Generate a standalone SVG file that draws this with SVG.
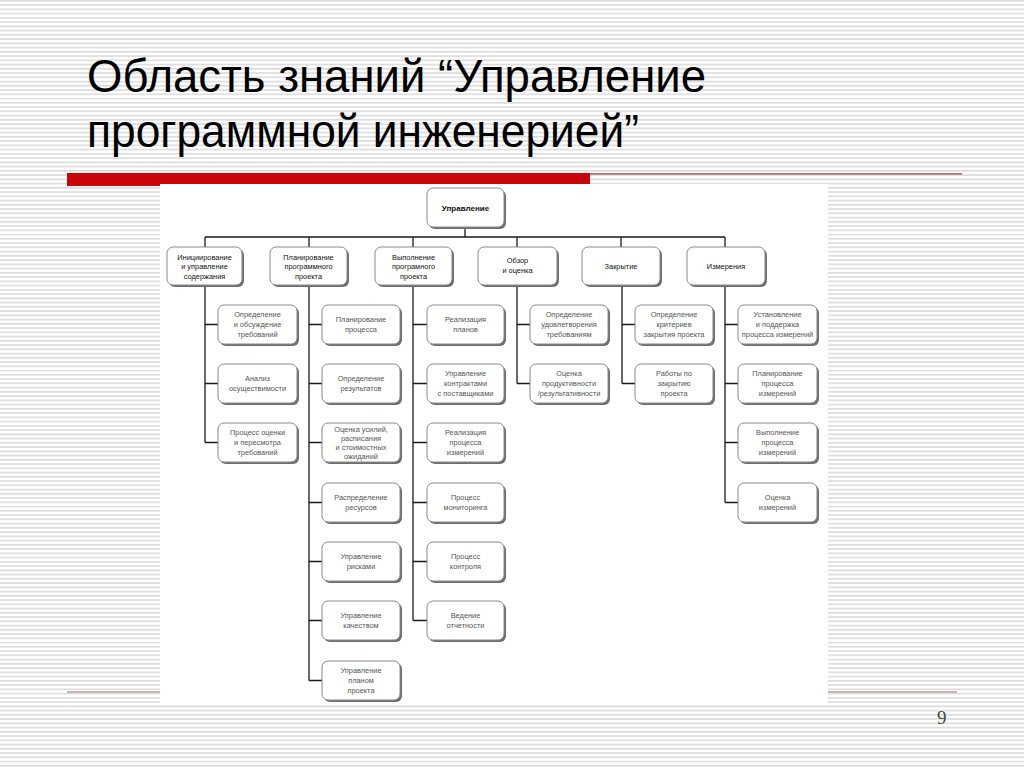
<svg xmlns="http://www.w3.org/2000/svg" width="1024" height="767" viewBox="0 0 1024 767">
<defs>
<pattern id="stripes" x="0" y="0" width="8" height="4.25" patternUnits="userSpaceOnUse">
<rect x="0" y="0" width="8" height="1.6" fill="#dcdcdc"/>
</pattern>
<style>
.title{font-family:"Liberation Sans",Arial,sans-serif;font-size:46px;fill:#000}
.pg{font-family:"Liberation Serif","Times New Roman",serif;font-size:19px;fill:#444}
.sh{fill:#6e6e6e}
.bx{fill:#fff;stroke:#8a8a8a;stroke-width:1}
.t1{font-family:"Liberation Sans",Arial,sans-serif;font-size:7.4px;fill:#111;text-anchor:middle}
.t0{font-family:"Liberation Sans",Arial,sans-serif;font-size:8px;font-weight:bold;fill:#111;text-anchor:middle}
.t2{font-family:"Liberation Sans",Arial,sans-serif;font-size:7.4px;fill:#555;text-anchor:middle}
.ln{stroke:#1a1a1a;stroke-width:1.3;fill:none}
</style>
</defs>
<rect width="1024" height="767" fill="#fff"/>
<rect width="1024" height="767" fill="url(#stripes)"/>
<text class="title" x="87" y="92" textLength="619" lengthAdjust="spacingAndGlyphs">Область знаний “Управление</text>
<text class="title" x="87" y="147" textLength="552" lengthAdjust="spacingAndGlyphs">программной инженерией”</text>
<rect x="67" y="173" width="523" height="13" fill="#c8050a"/>
<line x1="590" y1="173.8" x2="962" y2="173.8" stroke="#9b3d3d" stroke-width="1.3"/>
<line x1="67" y1="692" x2="160" y2="692" stroke="#cdb3b3" stroke-width="2"/>
<line x1="828" y1="692" x2="957" y2="692" stroke="#cdb3b3" stroke-width="2"/>
<rect x="160" y="184" width="668" height="519" fill="#fff"/>
<text class="pg" x="937" y="724">9</text>

<g id="connectors">
<path class="ln" d="M465 227V237M205 237H725M205 237V247M309 237V247M413 237V247M517 237V247M621 237V247M725 237V247"/>
<path class="ln" d="M205 285V442.5M205 324.5H218M205 383.5H218M205 442.5H218"/>
<path class="ln" d="M309 285V680.5M309 324.5H322M309 383.5H322M309 442.5H322M309 502.5H322M309 561.5H322M309 620.5H322M309 680.5H322"/>
<path class="ln" d="M413 285V620.5M413 324.5H427M413 383.5H427M413 442.5H427M413 502.5H427M413 561.5H427M413 620.5H427"/>
<path class="ln" d="M517 285V383.5M517 324.5H530M517 383.5H530"/>
<path class="ln" d="M622 285V383.5M622 324.5H635M622 383.5H635"/>
<path class="ln" d="M725 285V502.5M725 324.5H738M725 383.5H738M725 442.5H738M725 502.5H738"/>
</g>

<g id="root">
<rect class="sh" x="429" y="190" width="77" height="39" rx="6"/>
<rect class="bx" x="427" y="188" width="77" height="39" rx="6"/>
<text class="t0" x="465.5" y="210.5">Управление</text>
</g>

<g id="l1-init">
<rect class="sh" x="169" y="249" width="75" height="38" rx="6"/>
<rect class="bx" x="167" y="247" width="75" height="38" rx="6"/>
<text class="t1" x="204.5" y="259.5">Инициирование</text>
<text class="t1" x="204.5" y="269">и управление</text>
<text class="t1" x="204.5" y="278.5">содержания</text>
</g>
<g id="l1-plan">
<rect class="sh" x="272" y="249" width="77" height="38" rx="6"/>
<rect class="bx" x="270" y="247" width="77" height="38" rx="6"/>
<text class="t1" x="308.5" y="259.5">Планирование</text>
<text class="t1" x="308.5" y="269">программного</text>
<text class="t1" x="308.5" y="278.5">проекта</text>
</g>
<g id="l1-exec">
<rect class="sh" x="377" y="249" width="77" height="38" rx="6"/>
<rect class="bx" x="375" y="247" width="77" height="38" rx="6"/>
<text class="t1" x="413.5" y="259.5">Выполнение</text>
<text class="t1" x="413.5" y="269">програмного</text>
<text class="t1" x="413.5" y="278.5">проекта</text>
</g>
<g id="l1-review">
<rect class="sh" x="480" y="249" width="79" height="38" rx="6"/>
<rect class="bx" x="478" y="247" width="79" height="38" rx="6"/>
<text class="t1" x="517.5" y="263">Обзор</text>
<text class="t1" x="517.5" y="273">и оценка</text>
</g>
<g id="l1-close">
<rect class="sh" x="584" y="249" width="78" height="38" rx="6"/>
<rect class="bx" x="582" y="247" width="78" height="38" rx="6"/>
<text class="t1" x="621" y="268.5">Закрытие</text>
</g>
<g id="l1-meas">
<rect class="sh" x="689" y="249" width="78" height="38" rx="6"/>
<rect class="bx" x="687" y="247" width="78" height="38" rx="6"/>
<text class="t1" x="726" y="268.5">Измерения</text>
</g>

<!-- Column 1 -->
<g id="c1-1">
<rect class="sh" x="220" y="307" width="79" height="39" rx="6"/>
<rect class="bx" x="218" y="305" width="79" height="39" rx="6"/>
<text class="t2" x="257.5" y="317">Определение</text>
<text class="t2" x="257.5" y="327">и обсуждение</text>
<text class="t2" x="257.5" y="337">требований</text>
</g>
<g id="c1-2">
<rect class="sh" x="220" y="366" width="79" height="39" rx="6"/>
<rect class="bx" x="218" y="364" width="79" height="39" rx="6"/>
<text class="t2" x="257.5" y="381">Анализ</text>
<text class="t2" x="257.5" y="391">осуществимости</text>
</g>
<g id="c1-3">
<rect class="sh" x="220" y="425" width="79" height="39" rx="6"/>
<rect class="bx" x="218" y="423" width="79" height="39" rx="6"/>
<text class="t2" x="257.5" y="435">Процесс оценки</text>
<text class="t2" x="257.5" y="445">и пересмотра</text>
<text class="t2" x="257.5" y="455">требований</text>
</g>

<!-- Column 2 -->
<g id="c2-1">
<rect class="sh" x="324" y="307" width="78" height="39" rx="6"/>
<rect class="bx" x="322" y="305" width="78" height="39" rx="6"/>
<text class="t2" x="361" y="322">Планирование</text>
<text class="t2" x="361" y="332">процесса</text>
</g>
<g id="c2-2">
<rect class="sh" x="324" y="366" width="78" height="39" rx="6"/>
<rect class="bx" x="322" y="364" width="78" height="39" rx="6"/>
<text class="t2" x="361" y="381">Определение</text>
<text class="t2" x="361" y="391">результатов</text>
</g>
<g id="c2-3">
<rect class="sh" x="324" y="425" width="78" height="39" rx="6"/>
<rect class="bx" x="322" y="423" width="78" height="39" rx="6"/>
<text class="t2" x="361" y="432">Оценка усилий,</text>
<text class="t2" x="361" y="441">расписания</text>
<text class="t2" x="361" y="450">и стоимостных</text>
<text class="t2" x="361" y="459">ожиданий</text>
</g>
<g id="c2-4">
<rect class="sh" x="324" y="485" width="78" height="39" rx="6"/>
<rect class="bx" x="322" y="483" width="78" height="39" rx="6"/>
<text class="t2" x="361" y="500">Распределение</text>
<text class="t2" x="361" y="510">ресурсов</text>
</g>
<g id="c2-5">
<rect class="sh" x="324" y="544" width="78" height="39" rx="6"/>
<rect class="bx" x="322" y="542" width="78" height="39" rx="6"/>
<text class="t2" x="361" y="559">Управление</text>
<text class="t2" x="361" y="569">рисками</text>
</g>
<g id="c2-6">
<rect class="sh" x="324" y="603" width="78" height="39" rx="6"/>
<rect class="bx" x="322" y="601" width="78" height="39" rx="6"/>
<text class="t2" x="361" y="618">Управление</text>
<text class="t2" x="361" y="628">качеством</text>
</g>
<g id="c2-7">
<rect class="sh" x="324" y="663" width="78" height="39" rx="6"/>
<rect class="bx" x="322" y="661" width="78" height="39" rx="6"/>
<text class="t2" x="361" y="673">Управление</text>
<text class="t2" x="361" y="683">планом</text>
<text class="t2" x="361" y="693">проекта</text>
</g>

<!-- Column 3 -->
<g id="c3-1">
<rect class="sh" x="429" y="307" width="77" height="39" rx="6"/>
<rect class="bx" x="427" y="305" width="77" height="39" rx="6"/>
<text class="t2" x="465.5" y="322">Реализация</text>
<text class="t2" x="465.5" y="332">планов</text>
</g>
<g id="c3-2">
<rect class="sh" x="429" y="366" width="77" height="39" rx="6"/>
<rect class="bx" x="427" y="364" width="77" height="39" rx="6"/>
<text class="t2" x="465.5" y="376">Управление</text>
<text class="t2" x="465.5" y="386">контрактами</text>
<text class="t2" x="465.5" y="396">с поставщиками</text>
</g>
<g id="c3-3">
<rect class="sh" x="429" y="425" width="77" height="39" rx="6"/>
<rect class="bx" x="427" y="423" width="77" height="39" rx="6"/>
<text class="t2" x="465.5" y="435">Реализация</text>
<text class="t2" x="465.5" y="445">процесса</text>
<text class="t2" x="465.5" y="455">измерений</text>
</g>
<g id="c3-4">
<rect class="sh" x="429" y="485" width="77" height="39" rx="6"/>
<rect class="bx" x="427" y="483" width="77" height="39" rx="6"/>
<text class="t2" x="465.5" y="500">Процесс</text>
<text class="t2" x="465.5" y="510">мониторинга</text>
</g>
<g id="c3-5">
<rect class="sh" x="429" y="544" width="77" height="39" rx="6"/>
<rect class="bx" x="427" y="542" width="77" height="39" rx="6"/>
<text class="t2" x="465.5" y="559">Процесс</text>
<text class="t2" x="465.5" y="569">контроля</text>
</g>
<g id="c3-6">
<rect class="sh" x="429" y="603" width="77" height="39" rx="6"/>
<rect class="bx" x="427" y="601" width="77" height="39" rx="6"/>
<text class="t2" x="465.5" y="618">Ведение</text>
<text class="t2" x="465.5" y="628">отчетности</text>
</g>

<!-- Column 4 -->
<g id="c4-1">
<rect class="sh" x="532" y="307" width="78" height="39" rx="6"/>
<rect class="bx" x="530" y="305" width="78" height="39" rx="6"/>
<text class="t2" x="569" y="317">Определение</text>
<text class="t2" x="569" y="327">удовлетворения</text>
<text class="t2" x="569" y="337">требованиям</text>
</g>
<g id="c4-2">
<rect class="sh" x="532" y="366" width="78" height="39" rx="6"/>
<rect class="bx" x="530" y="364" width="78" height="39" rx="6"/>
<text class="t2" x="569" y="376">Оценка</text>
<text class="t2" x="569" y="386">продуктивности</text>
<text class="t2" x="569" y="396">/результативности</text>
</g>

<!-- Column 5 -->
<g id="c5-1">
<rect class="sh" x="637" y="307" width="78" height="39" rx="6"/>
<rect class="bx" x="635" y="305" width="78" height="39" rx="6"/>
<text class="t2" x="674" y="317">Определение</text>
<text class="t2" x="674" y="327">критериев</text>
<text class="t2" x="674" y="337">закрытия проекта</text>
</g>
<g id="c5-2">
<rect class="sh" x="637" y="366" width="78" height="39" rx="6"/>
<rect class="bx" x="635" y="364" width="78" height="39" rx="6"/>
<text class="t2" x="674" y="376">Работы по</text>
<text class="t2" x="674" y="386">закрытию</text>
<text class="t2" x="674" y="396">проекта</text>
</g>

<!-- Column 6 -->
<g id="c6-1">
<rect class="sh" x="740" y="307" width="79" height="39" rx="6"/>
<rect class="bx" x="738" y="305" width="79" height="39" rx="6"/>
<text class="t2" x="777.5" y="317">Установление</text>
<text class="t2" x="777.5" y="327">и поддержка</text>
<text class="t2" x="777.5" y="337">процесса измерений</text>
</g>
<g id="c6-2">
<rect class="sh" x="740" y="366" width="79" height="39" rx="6"/>
<rect class="bx" x="738" y="364" width="79" height="39" rx="6"/>
<text class="t2" x="777.5" y="376">Планирование</text>
<text class="t2" x="777.5" y="386">процесса</text>
<text class="t2" x="777.5" y="396">измерений</text>
</g>
<g id="c6-3">
<rect class="sh" x="740" y="425" width="79" height="39" rx="6"/>
<rect class="bx" x="738" y="423" width="79" height="39" rx="6"/>
<text class="t2" x="777.5" y="435">Выполнение</text>
<text class="t2" x="777.5" y="445">процесса</text>
<text class="t2" x="777.5" y="455">измерений</text>
</g>
<g id="c6-4">
<rect class="sh" x="740" y="485" width="79" height="39" rx="6"/>
<rect class="bx" x="738" y="483" width="79" height="39" rx="6"/>
<text class="t2" x="777.5" y="500">Оценка</text>
<text class="t2" x="777.5" y="510">измерений</text>
</g>
</svg>
